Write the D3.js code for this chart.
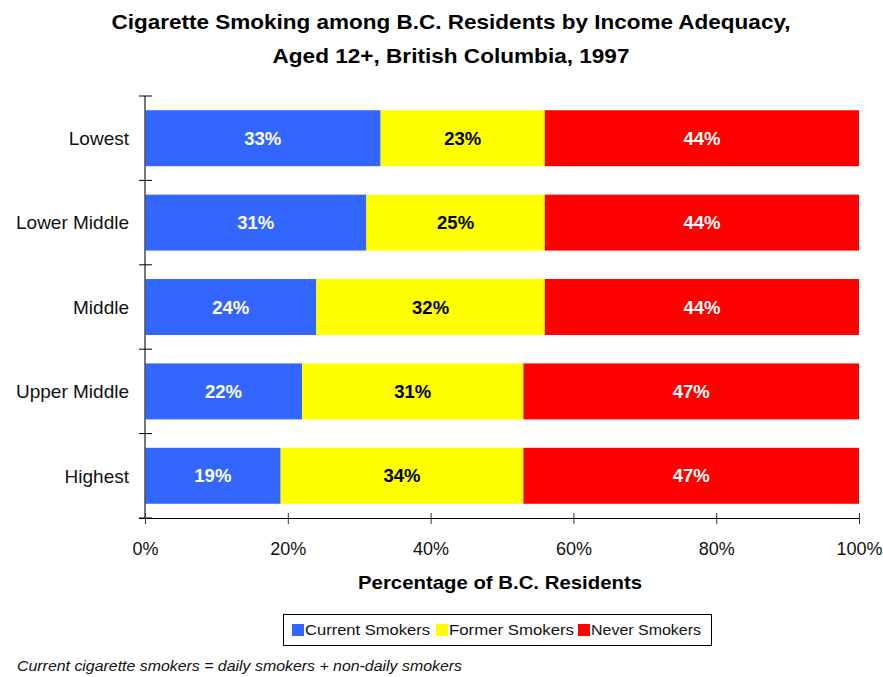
<!DOCTYPE html>
<html>
<head>
<meta charset="utf-8">
<script src="https://cdn.jsdelivr.net/npm/d3@7"></script>
<style>
  html, body { margin: 0; padding: 0; background: #fff; }
  svg { display: block; }
</style>
</head>
<body>
<svg id="chart" width="883" height="677"></svg>
<script>
// Income adequacy groups, top to bottom
const categories = ["Lowest", "Lower Middle", "Middle", "Upper Middle", "Highest"];
const seriesNames = ["Current Smokers", "Former Smokers", "Never Smokers"];
const currentSmokers = [33, 31, 24, 22, 19];
const formerSmokers = [23, 25, 32, 31, 34];
const neverSmokers = [44, 44, 44, 47, 47];
const xTickValues = [0, 20, 40, 60, 80, 100];
const colors = ["#3366FF", "#FFFF00", "#FF0000"];
const labelColors = ["#ffffff", "#000000", "#ffffff"];

const rows = categories.map((c, i) => ({
  category: c,
  "Current Smokers": currentSmokers[i],
  "Former Smokers": formerSmokers[i],
  "Never Smokers": neverSmokers[i]
}));

const svg = d3.select("#chart");
const font = "'Liberation Sans', Arial, sans-serif";
const narrow = "'Liberation Sans Narrow', 'Arial Narrow', 'Liberation Sans', Arial, sans-serif";

const x = d3.scaleLinear().domain([0, 100]).range([145, 859]);
const pad = 0.337;
const y = d3.scaleBand().domain(categories).range([96, 518])
  .paddingInner(pad).paddingOuter(pad / 2);

const stack = d3.stack().keys(seriesNames)(rows);

// Title
const title = svg.append("g").attr("font-family", narrow).attr("font-weight", "bold")
  .attr("font-size", 21).attr("text-anchor", "middle").attr("fill", "#000");
title.append("text").attr("x", 451).attr("y", 29)
  .attr("textLength", 679).attr("lengthAdjust", "spacingAndGlyphs")
  .text("Cigarette Smoking among B.C. Residents by Income Adequacy,");
title.append("text").attr("x", 451).attr("y", 63)
  .attr("textLength", 357).attr("lengthAdjust", "spacingAndGlyphs")
  .text("Aged 12+, British Columbia, 1997");

// Stacked bars
const layers = svg.append("g").selectAll("g").data(stack).join("g")
  .attr("fill", (d, i) => colors[i]);
layers.selectAll("rect").data(d => d).join("rect")
  .attr("x", d => x(d[0]))
  .attr("y", d => y(d.data.category))
  .attr("width", d => x(d[1]) - x(d[0]))
  .attr("height", y.bandwidth());

// Segment value labels
const labels = svg.append("g").attr("font-family", font).attr("font-weight", "bold")
  .attr("font-size", 18.5).attr("text-anchor", "middle");
stack.forEach((layer, li) => {
  labels.selectAll(null).data(layer).join("text")
    .attr("x", d => (x(d[0]) + x(d[1])) / 2)
    .attr("y", d => y(d.data.category) + y.bandwidth() / 2)
    .attr("dy", "0.36em")
    .attr("fill", labelColors[li])
    .text(d => (d[1] - d[0]) + "%");
});

// Y axis line with ticks at band boundaries
const step = y.step();
const yAxis = svg.append("g");
yAxis.append("line").attr("x1", 145).attr("x2", 145).attr("y1", 96).attr("y2", 518)
  .attr("stroke", "#555").attr("stroke-width", 1.6);
d3.range(categories.length + 1).forEach(i => {
  yAxis.append("line").attr("x1", 139).attr("x2", 152)
    .attr("y1", 96 + i * step).attr("y2", 96 + i * step)
    .attr("stroke", "#000").attr("stroke-width", 1);
});
yAxis.append("g").attr("font-family", font).attr("font-size", 19)
  .attr("text-anchor", "end").attr("fill", "#111")
  .selectAll("text").data(categories).join("text")
  .attr("x", 129)
  .attr("y", d => y(d) + y.bandwidth() / 2)
  .attr("dy", "0.36em")
  .text(d => d);

// X axis
const xAxis = svg.append("g").attr("transform", "translate(0,518)")
  .call(d3.axisBottom(x).tickValues(xTickValues).tickSizeInner(6).tickSizeOuter(0)
    .tickFormat(d => d + "%"));
xAxis.select(".domain").attr("d", "M139,0.5H859").attr("stroke", "#000");
xAxis.selectAll(".tick line").attr("y1", -5).attr("y2", 6).attr("stroke", "#333");
xAxis.selectAll(".tick text").attr("font-family", font).attr("font-size", 18)
  .attr("fill", "#111").attr("y", 24).attr("dy", "0.71em");

// X axis title
svg.append("text").attr("x", 500).attr("y", 589)
  .attr("font-family", font).attr("font-weight", "bold").attr("font-size", 18)
  .attr("text-anchor", "middle").attr("fill", "#000")
  .attr("textLength", 284).attr("lengthAdjust", "spacingAndGlyphs")
  .text("Percentage of B.C. Residents");

// Legend
const legend = svg.append("g");
legend.append("rect").attr("x", 283.5).attr("y", 614.5).attr("width", 428).attr("height", 31)
  .attr("fill", "#fff").attr("stroke", "#000").attr("stroke-width", 1);
const legendX = [292, 436, 578];
const legendW = [125, 125, 110];
seriesNames.forEach((name, i) => {
  legend.append("rect").attr("x", legendX[i]).attr("y", 624).attr("width", 12).attr("height", 12)
    .attr("fill", colors[i]);
  legend.append("text").attr("x", legendX[i] + 13).attr("y", 635)
    .attr("font-family", font).attr("font-size", 15).attr("fill", "#111")
    .attr("textLength", legendW[i]).attr("lengthAdjust", "spacingAndGlyphs")
    .text(name);
});

// Footnote
svg.append("text").attr("x", 17).attr("y", 671)
  .attr("font-family", font).attr("font-style", "italic").attr("font-size", 14)
  .attr("fill", "#111")
  .attr("textLength", 445).attr("lengthAdjust", "spacingAndGlyphs")
  .text("Current cigarette smokers = daily smokers + non-daily smokers");
</script>
</body>
</html>
